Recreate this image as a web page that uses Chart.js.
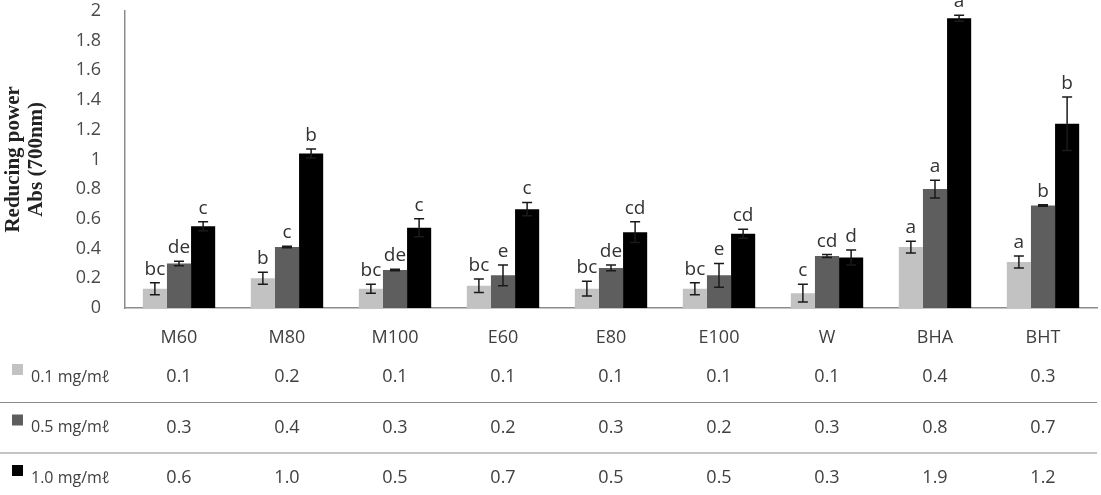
<!DOCTYPE html>
<html>
<head>
<meta charset="utf-8">
<script src="https://cdn.jsdelivr.net/npm/chart.js@4.4.1/dist/chart.umd.min.js"></script>
<style>
  html, body { margin: 0; padding: 0; background: #fff; overflow: hidden; }
  #page { width: 1101px; height: 495px; position: relative; overflow: hidden; }
  #wrap { width: 1101px; height: 511px; position: absolute; left: 0; top: -16px; }
</style>
</head>
<body>
<div id="page"><div id="wrap"><canvas id="myChart"></canvas></div></div>
<script>
// categories
var samples = ['M60', 'M80', 'M100', 'E60', 'E80', 'E100', 'W', 'BHA', 'BHT'];
var seriesNames = ['0.1 mg/mℓ', '0.5 mg/mℓ', '1.0 mg/mℓ'];

// bar heights
var conc01 = [0.13, 0.20, 0.13, 0.15, 0.13, 0.13, 0.10, 0.41, 0.31];
var conc05 = [0.30, 0.41, 0.255, 0.22, 0.27, 0.22, 0.35, 0.80, 0.69];
var conc10 = [0.55, 1.04, 0.54, 0.665, 0.51, 0.50, 0.34, 1.95, 1.24];

// error bar half-lengths
var err01 = [0.04, 0.04, 0.03, 0.045, 0.05, 0.04, 0.06, 0.04, 0.04];
var err05 = [0.015, 0.005, 0.005, 0.07, 0.02, 0.08, 0.01, 0.06, 0.005];
var err10 = [0.03, 0.03, 0.06, 0.045, 0.07, 0.03, 0.05, 0.02, 0.18];

// significance letters
var sig01 = ['bc', 'b', 'bc', 'bc', 'bc', 'bc', 'c', 'a', 'a'];
var sig05 = ['de', 'c', 'de', 'e', 'de', 'e', 'cd', 'a', 'b'];
var sig10 = ['c', 'b', 'c', 'c', 'cd', 'cd', 'd', 'a', 'b'];

// data table under the chart
var table01 = [0.1, 0.2, 0.1, 0.1, 0.1, 0.1, 0.1, 0.4, 0.3];
var table05 = [0.3, 0.4, 0.3, 0.2, 0.3, 0.2, 0.3, 0.8, 0.7];
var table10 = [0.6, 1.0, 0.5, 0.7, 0.5, 0.5, 0.3, 1.9, 1.2];

var yTicks = [0, 0.2, 0.4, 0.6, 0.8, 1, 1.2, 1.4, 1.6, 1.8, 2];

var barColor = ['#c2c2c2', '#5e5e5e', '#000000'];
var errors = [err01, err05, err10];
var letters = [sig01, sig05, sig10];
var tableRows = [table01, table05, table10];

var errorBars = {
    id: 'errorBars',
    afterDatasetsDraw: function (chart) {
        var ctx = chart.ctx;
        var y = chart.scales.y;
        ctx.save();
        for (var d = 0; d < chart.data.datasets.length; d++) {
            var meta = chart.getDatasetMeta(d);
            var vals = chart.data.datasets[d].data;
            meta.data.forEach(function (bar, j) {
                var top = y.getPixelForValue(vals[j] + errors[d][j]);
                var bot = y.getPixelForValue(vals[j] - errors[d][j]);
                ctx.strokeStyle = '#1a1a1a';
                ctx.lineWidth = 1.5;
                ctx.beginPath();
                ctx.moveTo(bar.x, top); ctx.lineTo(bar.x, bot);
                ctx.moveTo(bar.x - 5, top); ctx.lineTo(bar.x + 5, top);
                ctx.moveTo(bar.x - 5, bot); ctx.lineTo(bar.x + 5, bot);
                ctx.stroke();
                ctx.fillStyle = '#333';
                ctx.font = '19px "Open Sans"';
                ctx.textAlign = 'center';
                ctx.textBaseline = 'alphabetic';
                ctx.fillText(letters[d][j], bar.x, Math.min(top, bar.y) - 8);
            });
        }
        ctx.restore();
    }
};

var dataTable = {
    id: 'dataTable',
    afterDraw: function (chart) {
        var ctx = chart.ctx;
        var x = chart.scales.x;
        var base = chart.chartArea.bottom;
        ctx.save();
        for (var r = 0; r < tableRows.length; r++) {
            var rowY = base + 69 + r * 50.5;
            ctx.fillStyle = barColor[r];
            ctx.fillRect(12, rowY - 13, 11, 11);
            ctx.fillStyle = '#404040';
            ctx.font = '16px "Open Sans"';
            ctx.textAlign = 'left';
            ctx.textBaseline = 'middle';
            ctx.fillText(seriesNames[r], 31, rowY);
            ctx.font = '18px "Open Sans"';
            ctx.textAlign = 'center';
            for (var j = 0; j < samples.length; j++) {
                ctx.fillText(tableRows[r][j].toFixed(1), x.getPixelForValue(j), rowY);
            }
            if (r < tableRows.length - 1) {
                ctx.strokeStyle = '#8a8a8a';
                ctx.lineWidth = 1.2;
                ctx.beginPath();
                ctx.moveTo(0, rowY + 25.5);
                ctx.lineTo(chart.chartArea.right, rowY + 25.5);
                ctx.stroke();
            }
        }
        ctx.restore();
    }
};

new Chart(document.getElementById('myChart'), {
    type: 'bar',
    data: {
        labels: samples,
        datasets: [
            { label: seriesNames[0], data: conc01, backgroundColor: barColor[0] },
            { label: seriesNames[1], data: conc05, backgroundColor: barColor[1] },
            { label: seriesNames[2], data: conc10, backgroundColor: barColor[2] }
        ]
    },
    options: {
        responsive: true,
        maintainAspectRatio: false,
        animation: false,
        layout: { padding: { left: 2, top: 10, right: 4, bottom: 0 } },
        datasets: { bar: { barPercentage: 1, categoryPercentage: 0.67 } },
        plugins: { legend: { display: false }, tooltip: { enabled: false } },
        scales: {
            x: {
                grid: { display: false },
                border: { color: '#8c8c8c', width: 1.5 },
                ticks: { color: '#404040', font: { family: 'Open Sans', size: 18 }, padding: 11 },
                afterFit: function (s) { s.height = 187; }
            },
            y: {
                min: 0,
                max: 2,
                afterBuildTicks: function (s) { s.ticks = yTicks.map(function (v) { return { value: v }; }); },
                grid: { display: false },
                border: { color: '#8c8c8c', width: 1.5 },
                ticks: {
                    color: '#4a4a4a',
                    font: { family: 'Open Sans', size: 18 },
                    padding: 16,
                    callback: function (v) { return String(+v.toFixed(1)); }
                },
                title: {
                    display: true,
                    text: ['Reducing power', 'Abs (700nm)'],
                    color: '#222',
                    font: { family: 'Liberation Serif', size: 21, weight: 'bold', lineHeight: 1.1 },
                    padding: 0
                },
                afterFit: function (s) { s.width = 123; }
            }
        }
    },
    plugins: [errorBars, dataTable]
});
</script>
</body>
</html>
